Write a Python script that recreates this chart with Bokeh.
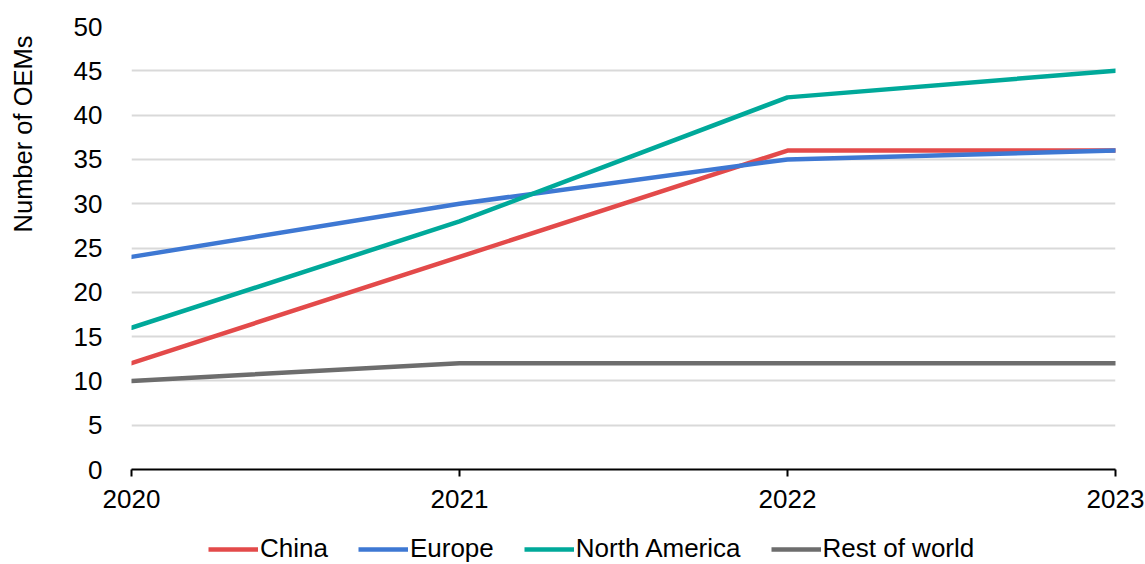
import math
from bokeh.plotting import figure
from bokeh.models import Range1d, FixedTicker, Legend, LegendItem, Label
from bokeh.layouts import gridplot
from bokeh.embed import file_html
from bokeh.resources import INLINE

years = [2020, 2021, 2022, 2023]
china = [12, 24, 36, 36]
europe = [24, 30, 35, 36]
north_america = [16, 28, 42, 45]
rest_of_world = [10, 12, 12, 12]
series_names = ["China", "Europe", "North America", "Rest of world"]
series_colors = ["#E34A4A", "#3E78D3", "#00A99A", "#6D6D6D"]
y_ticks = [0, 5, 10, 15, 20, 25, 30, 35, 40, 45, 50]
y_title = "Number of OEMs"

FONT = "Liberation Sans"
FS = "26px"
LW = 4.5
LEFT_W = 40

p = figure(width=1145 - LEFT_W, height=520, output_backend="svg", toolbar_location=None,
           x_range=Range1d(2020, 2023), y_range=Range1d(0, 50),
           min_border_left=131 - LEFT_W, min_border_right=30, min_border_top=26, min_border_bottom=51)
p.outline_line_color = None
p.background_fill_color = "white"
p.border_fill_color = "white"

for name, ys, col in zip(series_names, [china, europe, north_america, rest_of_world], series_colors):
    p.line(years, ys, line_color=col, line_width=LW, line_join="round", line_cap="round")

p.xgrid.grid_line_color = None
p.ygrid.grid_line_color = "#D9D9D9"
p.ygrid.grid_line_width = 2
p.ygrid.ticker = FixedTicker(ticks=y_ticks)

xa = p.xaxis[0]
xa.ticker = FixedTicker(ticks=years)
xa.axis_line_color = "black"
xa.axis_line_width = 2
xa.major_tick_line_color = "black"
xa.major_tick_line_width = 2
xa.major_tick_out = 7
xa.major_tick_in = 0
xa.minor_tick_line_color = None
xa.major_label_standoff = 13
xa.major_label_text_font = FONT
xa.major_label_text_font_size = FS
xa.major_label_text_color = "black"

ya = p.yaxis[0]
ya.ticker = FixedTicker(ticks=y_ticks)
ya.axis_line_color = None
ya.major_tick_line_color = None
ya.minor_tick_line_color = None
ya.major_label_standoff = 23
ya.major_label_text_font = FONT
ya.major_label_text_font_size = FS
ya.major_label_text_color = "black"

# strip at the left holding the y-axis title
yl = figure(width=LEFT_W, height=520, output_backend="svg", toolbar_location=None,
            x_range=Range1d(0, LEFT_W), y_range=Range1d(0, 443),
            x_axis_location=None, y_axis_location=None,
            min_border_left=0, min_border_right=0, min_border_top=26, min_border_bottom=51,
            outline_line_color=None)
yl.grid.grid_line_color = None
yl.add_layout(Label(x=22, y=434, text=y_title, angle=math.pi / 2,
                    text_align="right", text_baseline="middle",
                    text_font=FONT, text_font_size="25.5px", text_color="black"))

# legend strip below the chart
lg = figure(width=1145 - LEFT_W, height=44, output_backend="svg", toolbar_location=None,
            x_range=Range1d(0, 1), y_range=Range1d(0, 1),
            x_axis_location=None, y_axis_location=None,
            min_border=0, outline_line_color=None)
lg.grid.grid_line_color = None
items = []
for name, col in zip(series_names, series_colors):
    r = lg.line(x=[-1, -2], y=[-1, -2], line_color=col, line_width=LW)
    items.append(LegendItem(label=name, renderers=[r]))
legend = Legend(items=items, orientation="horizontal", location=(77, 0),
                label_text_font=FONT, label_text_font_size=FS, label_text_color="black",
                glyph_width=50, glyph_height=26, label_standoff=2, spacing=30,
                padding=0, margin=0, border_line_color=None, background_fill_alpha=0)
lg.add_layout(legend, "center")

grid = gridplot([[yl, p], [None, lg]], toolbar_location=None)
open("out.html", "w").write(file_html(grid, INLINE))
